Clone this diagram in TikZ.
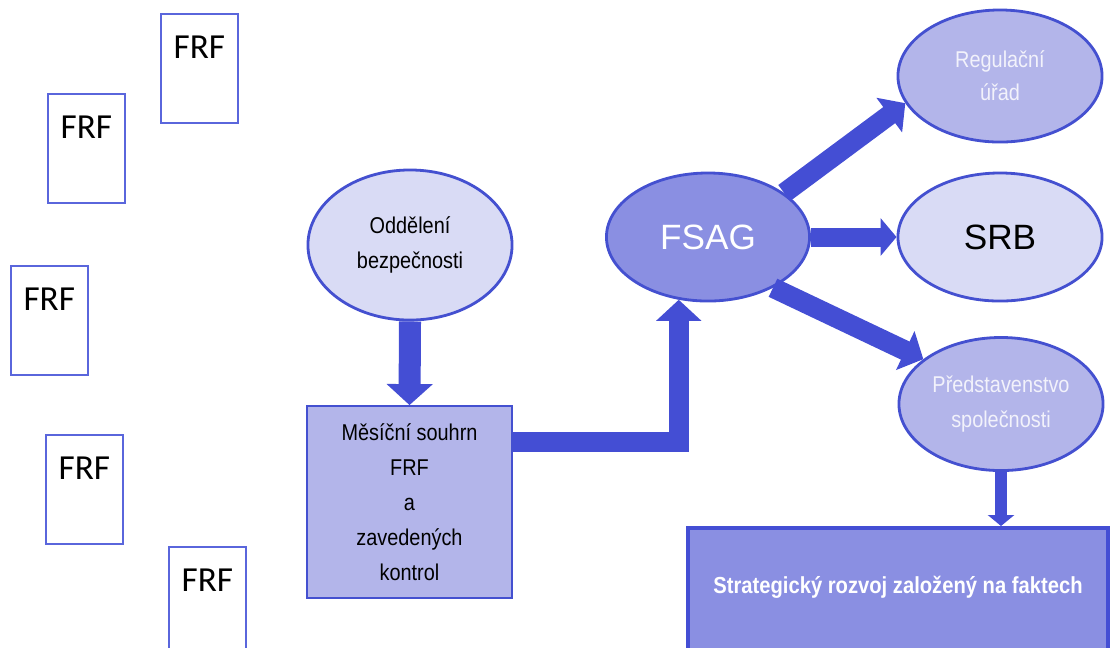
\documentclass[tikz,border=0pt]{standalone}
\usepackage{fontspec}
\setmainfont{Liberation Sans}
\newfontfamily\narrowfont{Liberation Sans}[FakeStretch=0.87]
\newfontfamily\frffont{Carlito}
\usetikzlibrary{arrows.meta}
\usetikzlibrary{shapes.geometric}
\definecolor{arrowblue}{HTML}{444ED4}
\definecolor{edgeblue}{HTML}{4450D0}
\definecolor{frfline}{HTML}{5A66DC}
\definecolor{lightfill}{HTML}{D9DBF5}
\definecolor{midfill}{HTML}{B3B5EA}
\definecolor{darkfill}{HTML}{8A8FE2}
\definecolor{paletext}{HTML}{F2F2FB}

\begin{document}
\begin{tikzpicture}[x=0.01cm,y=-0.01cm,
	frf/.style={draw=frfline,line width=0.45pt,anchor=north west,minimum width=0.77cm,inner xsep=0pt,inner ysep=0.22cm,text height=0.23cm,text depth=0.42cm,font=\frffont\fontsize{10}{12}\selectfont},
	oval/.style={ellipse,draw=edgeblue,line width=0.8pt,inner sep=0pt,minimum width=2.04cm,align=center},
	small/.style={font=\narrowfont\fontsize{6.5}{10}\selectfont},
	bigarrow/.style={draw=arrowblue,line width=0.2cm,-{Triangle[length=0.21cm,width=0.44cm]}}]
		\useasboundingbox (0,0) rectangle (1113,647);
		\node[frf] (f1) at (160,13) {FRF};
		\node[frf] (f2) at (47,93) {FRF};
		\node[frf] (f3) at (10,265) {FRF};
		\node[frf] (f4) at (45,434) {FRF};
		\node[frf] (f5) at (168,546) {FRF};
		
		\node[oval,fill=lightfill,minimum height=1.5cm,small] (odd) at (410,245) {Oddělení\\bezpečnosti};
		\node[draw=edgeblue,line width=0.5pt,fill=midfill,minimum width=2.05cm,minimum height=1.92cm,align=center,small] (mes) at (409.5,502) {Měsíční souhrn\\FRF\\a\\zavedených\\kontrol};
		\node[oval,fill=darkfill,minimum width=2.03cm,minimum height=1.28cm,text=white,font=\fontsize{10}{12}\selectfont] (fsag) at (708,237) {FSAG};
		\node[oval,fill=midfill,minimum height=1.32cm,text=paletext,small,font=\narrowfont\fontsize{6.5}{9.4}\selectfont] (reg) at (1000,76) {Regulační\\úřad};
		\node[oval,fill=lightfill,minimum height=1.28cm,font=\fontsize{10}{12}\selectfont] (srb) at (1000,237) {SRB};
		\node[oval,fill=midfill,minimum height=1.33cm,text=paletext,small] (pred) at (1001,404) {Představenstvo\\společnosti};
		\node[draw=arrowblue,line width=1.2pt,fill=darkfill,anchor=north,minimum width=4.2cm,inner ysep=0.3cm,text height=0.35cm,text depth=0.55cm,text=white,font=\narrowfont\bfseries\fontsize{6.6}{8}\selectfont] (strat) at (898,526) {Strategický rozvoj založený na faktech};
		
		\draw[bigarrow,line width=0.22cm,-{Triangle[length=0.21cm,width=0.45cm]}] (odd.south) -- (mes.north);
		\draw[bigarrow] ([yshift=0.6cm]mes.east) -| (fsag.245);
		\draw[bigarrow,-{Triangle[length=0.2cm,width=0.42cm]}] (fsag.30) -- (reg.196);
		\draw[bigarrow,line width=0.19cm,-{Triangle[length=0.16cm,width=0.37cm]}] (fsag.east) -- (srb.west);
		\draw[bigarrow,-{Triangle[length=0.2cm,width=0.42cm]}] (fsag.322) -- (pred.150);
		\draw[bigarrow,line width=0.12cm,-{Triangle[length=0.11cm,width=0.26cm]}] (pred.south) -- (pred.south |- strat.north);
		
		\end{tikzpicture}
\end{document}
